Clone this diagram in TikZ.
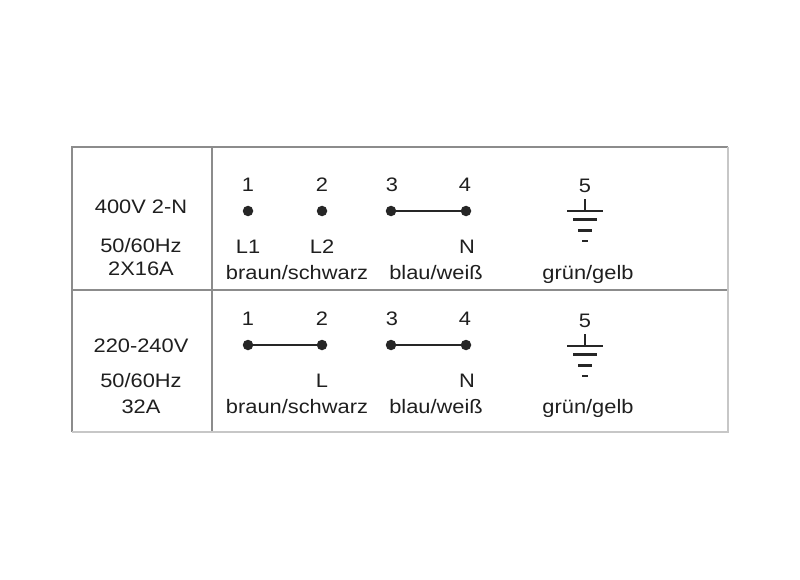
\documentclass[tikz,border=0pt]{standalone}
\usepackage{fontspec}
\setmainfont{Liberation Sans}[FakeStretch=1.12]
\usetikzlibrary{positioning}

\tikzset{
  lbl/.style={inner sep=0pt, anchor=base, text=black!88, font=\fontsize{19.5}{21}\selectfont},
  term/.style={circle, fill=black!85, inner sep=0pt, minimum size=10.5pt},
  wire/.style={draw=black!85, line width=2pt},
  gnd/.style={draw=black!85, line width=2.2pt},
  frame/.style={draw=black!45, line width=1.7pt},
  framelight/.style={draw=black!22, line width=1.5pt}
}

\begin{document}
\begin{tikzpicture}[x=1pt,y=-1pt]
  \useasboundingbox[fill=white] (0,0) rectangle (800,580);
  % table frame
  \draw[frame] (72,432) -- (72,147) -- (728,147);
  \draw[frame] (212,147) -- (212,432);
  \draw[frame] (72,290) -- (728,290);
  \draw[framelight] (728,147) -- (728,432) -- (72,432);

  % row 1: 400V
  \node[lbl] (volt1) at (141,213) {400V 2-N};
  \node[lbl] (hz1) at (141,252) {50/60Hz};
  \node[lbl] (amp1) at (141,275) {2X16A};
  \node[lbl] (n11) at (248,192) {1};
  \node[lbl] (n12) at (322,192) {2};
  \node[lbl] (n13) at (392,192) {3};
  \node[lbl] (n14) at (465,192) {4};
  \node[lbl] (n15) at (585,193) {5};
  \node[term] (t11) at (248,211) {};
  \node[term] (t12) at (322,211) {};
  \node[term] (t13) at (391,211) {};
  \node[term] (t14) at (466,211) {};
  \draw[wire] (t13) -- (t14);
  \node[lbl] (l11) at (248,253) {L1};
  \node[lbl] (l12) at (322,253) {L2};
  \node[lbl] (l14) at (467,253) {N};
  \node[lbl] (c11) at (297,279) {braun/schwarz};
  \node[lbl] (c12) at (436,279) {blau/weiß};
  \node[lbl] (c13) at (588,279) {grün/gelb};
  % earth 1
  \coordinate (g1) at (585,211);
  \draw[gnd] (g1) -- ++(0,-12);
  \draw[gnd] (g1) ++(-18,0) -- ++(36,0);
  \draw[gnd] (g1) ++(-12,8.5) -- ++(24,0);
  \draw[gnd] (g1) ++(-7,19.5) -- ++(14,0);
  \draw[gnd] (g1) ++(-3,30) -- ++(6,0);

  % row 2: 220-240V
  \node[lbl] (volt2) at (141,352) {220-240V};
  \node[lbl] (hz2) at (141,387) {50/60Hz};
  \node[lbl] (amp2) at (141,413) {32A};
  \node[lbl] (n21) at (248,325) {1};
  \node[lbl] (n22) at (322,325) {2};
  \node[lbl] (n23) at (392,325) {3};
  \node[lbl] (n24) at (465,325) {4};
  \node[lbl] (n25) at (585,327) {5};
  \node[term] (t21) at (248,345) {};
  \node[term] (t22) at (322,345) {};
  \node[term] (t23) at (391,345) {};
  \node[term] (t24) at (466,345) {};
  \draw[wire] (t21) -- (t22);
  \draw[wire] (t23) -- (t24);
  \node[lbl] (l22) at (322,387) {L};
  \node[lbl] (l24) at (467,387) {N};
  \node[lbl] (c21) at (297,413) {braun/schwarz};
  \node[lbl] (c22) at (436,413) {blau/weiß};
  \node[lbl] (c23) at (588,413) {grün/gelb};
  % earth 2
  \coordinate (g2) at (585,346);
  \draw[gnd] (g2) -- ++(0,-12);
  \draw[gnd] (g2) ++(-18,0) -- ++(36,0);
  \draw[gnd] (g2) ++(-12,8.5) -- ++(24,0);
  \draw[gnd] (g2) ++(-7,19.5) -- ++(14,0);
  \draw[gnd] (g2) ++(-3,30) -- ++(6,0);
\end{tikzpicture}
\end{document}
